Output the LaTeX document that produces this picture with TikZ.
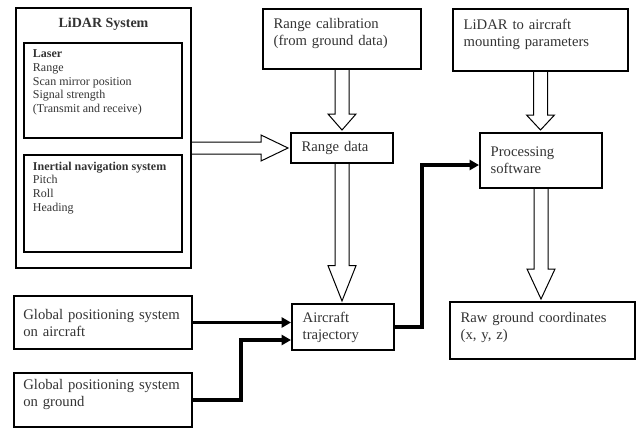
\documentclass[tikz,border=0pt]{standalone}
\usepackage{fontspec}
\setmainfont{Liberation Serif}
\usetikzlibrary{arrows.meta,calc}

\newcommand{\fatdown}[3]{%
  \draw[hollow] let \p1=(#1.south), \p2=(#2.north) in
    (\x1-5.25pt,\y1) -- (\x1-5.25pt,\y2+#3) -- (\x1-10.5pt,\y2+#3)
    -- (\x1,\y2+1.5pt) -- (\x1+10.5pt,\y2+#3) -- (\x1+5.25pt,\y2+#3)
    -- (\x1+5.25pt,\y1);}
\newcommand{\fatright}[3]{%
  \draw[hollow] let \p1=(#1.east), \p2=(#2.west) in
    (\x1,\y2+4.5pt) -- (\x2-#3,\y2+4.5pt) -- (\x2-#3,\y2+9.75pt)
    -- (\x2-1.5pt,\y2) -- (\x2-#3,\y2-9.75pt) -- (\x2-#3,\y2-4.5pt)
    -- (\x1,\y2-4.5pt);}

\begin{document}
\begin{tikzpicture}[x=0.75pt,y=-0.75pt,
  box/.style={draw, line width=1.5pt, align=left, inner xsep=8pt,
    font=\fontsize{11}{12.75}\selectfont, text=black!80},
  inbox/.style={draw, line width=2pt},
  listtext/.style={align=left, inner sep=0pt,
    font=\fontsize{9}{10.3}\selectfont, text=black!80},
  hollow/.style={line width=0.75pt, line join=miter},
  thickarrow/.style={line width=2.5pt, -{Triangle[length=7pt,width=7.5pt]}}]
\useasboundingbox (0,0) rectangle (641,428);

\node at (103.5,138)[draw, line width=1.5pt, minimum width=131.25pt, minimum height=195pt] (lidar) {};
\node at (103.5,24)[font=\fontsize{10.5}{12}\selectfont\bfseries, text=black!80] (lidartitle) {LiDAR System};
\node at (103,90.5)[inbox, minimum width=118.5pt, minimum height=71.25pt] (laser) {};
\node at ($(laser.north west)+(10,8)$)[listtext, anchor=north west] (lasertxt)
  {\textbf{Laser}\\Range\\Scan mirror position\\Signal strength\\(Transmit and receive)};
\node at (103,203.5)[inbox, minimum width=118.5pt, minimum height=72.75pt] (ins) {};
\node at ($(ins.north west)+(10,8)$)[listtext, anchor=north west] (instxt)
  {\textbf{Inertial navigation system}\\Pitch\\Roll\\Heading};

\node at (342,39)[box, text width=102.5pt, minimum height=45pt, text depth=23pt] (rangecal) {Range calibration\\(from ground data)};
\node at (342,148)[box, text width=60.5pt, minimum height=22.5pt] (rdata) {Range data};
\node at (540.5,40)[box, text width=115.25pt, minimum height=46.5pt, text depth=23pt] (mount) {LiDAR to aircraft\\mounting parameters};
\node at (541,160.5)[box, text width=75.5pt, minimum height=41.25pt] (proc) {Processing\\software};
\node at (542.5,330.5)[box, text width=122.75pt, minimum height=42.75pt, text depth=20pt] (raw) {Raw ground coordinates\\(x, y, z)};
\node at (343,327)[box, text width=60.5pt, minimum height=34.5pt] (traj) {Aircraft\\trajectory};
\node at (103,322.5)[box, text width=119.5pt, inner xsep=7pt, minimum height=39.75pt] (gpsair) {Global positioning system\\on aircraft};
\node at (103,400)[box, text width=119.5pt, inner xsep=7pt, minimum height=40.5pt, text depth=23pt] (gpsgnd) {Global positioning system\\on ground};

\fatdown{rangecal}{rdata}{13.5pt}
\fatdown{mount}{proc}{12.75pt}
\fatdown{rdata}{traj}{28pt}
\fatdown{proc}{raw}{24pt}
\fatright{lidar}{rdata}{21.75pt}

\draw[thickarrow] (gpsair.east) -- (gpsair.east -| traj.west);
\draw[thickarrow] (gpsgnd.east) -- ++(48,0) |- ($(traj.west)+(0,13)$);
\draw[thickarrow] (traj.east) -- ++(27,0) |- ($(proc.west)+(0,4.5)$);
\end{tikzpicture}
\end{document}
